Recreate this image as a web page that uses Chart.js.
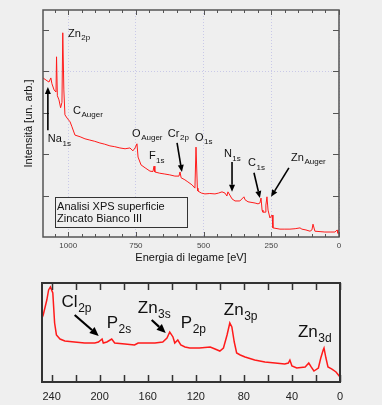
<!DOCTYPE html>
<html>
<head>
<meta charset="utf-8">
<script src="https://cdn.jsdelivr.net/npm/chart.js@4"></script>
<style>
    html, body { margin: 0; padding: 0; background: #efefef; }
    #wrap { position: relative; width: 382px; height: 405px; }
    #chart-survey { position: absolute; left: 0; top: 0; }
    #chart-valence { position: absolute; left: 0; top: 270px; }
</style>
</head>
<body>
<div id="wrap">
    <canvas id="chart-survey" width="382" height="270"></canvas>
    <canvas id="chart-valence" width="382" height="135"></canvas>
</div>
<script>
// --- Survey spectrum (top panel) ---
const surveyEnergy = [
    1093, 1082, 1071, 1064, 1060, 1052, 1045, 1043, 1040, 1034,
    1028, 1023, 1020, 1016, 1012, 1004, 993, 986, 975, 956,
    938, 920, 902, 883, 865, 846, 828, 809, 790, 772,
    761, 753, 746, 742, 731, 716, 698, 687, 683, 680,
    662, 643, 625, 606, 591, 587, 583, 569, 558, 543,
    532, 528, 523, 521, 508, 495, 477, 458, 445, 432,
    421, 414, 410, 395, 384, 366, 351, 347, 336, 310,
    299, 292, 288, 284, 281, 273, 270, 266, 262, 255,
    247, 244, 218, 200, 181, 162, 144, 137, 122, 107,
    100, 96, 89, 70, 52, 33, 15, 7, 4, 0
];
const surveyIntensity = [
    3.84, 3.79, 3.74, 3.84, 3.70, 3.55, 3.50, 4.35, 3.41, 3.31,
    3.12, 3.25, 4.93, 3.55, 2.95, 2.87, 2.78, 2.66, 2.46, 2.42,
    2.37, 2.34, 2.31, 2.27, 2.24, 2.20, 2.18, 2.15, 2.13, 2.15,
    2.08, 2.15, 2.25, 1.93, 1.74, 1.67, 1.59, 1.58, 1.71, 1.57,
    1.54, 1.52, 1.50, 1.47, 1.47, 1.57, 1.43, 1.38, 1.33, 1.26,
    1.18, 2.17, 1.18, 1.11, 1.06, 1.04, 1.05, 1.04, 1.06, 1.09,
    1.06, 0.99, 1.09, 0.92, 0.87, 0.87, 0.97, 0.90, 0.85, 0.82,
    0.80, 0.82, 0.94, 0.65, 0.60, 0.60, 0.77, 0.97, 0.65, 0.46,
    0.53, 0.22, 0.19, 0.19, 0.19, 0.20, 0.22, 0.19, 0.17, 0.14,
    0.17, 0.31, 0.14, 0.13, 0.12, 0.12, 0.12, 0.17, 0.09, 0.07
];
const surveyMajorTicks = [0, 250, 500, 750, 1000];
const surveyMinorTicks = [50, 100, 150, 200, 300, 350, 400, 450, 550, 600, 650, 700, 800, 850, 900, 950, 1050];
const surveyYTicks = [1, 2, 3, 4, 5];

// --- Valence region (bottom panel) ---
const valenceEnergy = [
    248, 247, 244, 242.5, 241, 239, 237.5, 236, 233, 229,
    221, 212.5, 204, 201, 198, 197, 194, 190, 187.5, 179,
    171, 168, 162.5, 154, 147.5, 144, 141.7, 139, 137.5, 135,
    132.5, 129, 125, 117, 108, 104, 100, 97, 94, 91.7,
    90, 88, 86, 83, 79, 71, 62.5, 54, 46, 43,
    41.7, 40, 36, 29, 26, 24, 21.7, 18, 16, 14,
    13.3, 11.7, 10, 6.7, 3.3, 0
];
const valenceIntensity = [
    6.46, 6.77, 8.28, 9.30, 9.60, 8.99, 5.96, 4.75, 4.34, 4.14,
    4.04, 3.94, 3.94, 4.04, 4.34, 3.94, 4.04, 4.34, 3.94, 3.84,
    3.74, 3.94, 3.94, 3.94, 4.04, 4.44, 5.05, 4.55, 3.94, 4.24,
    3.74, 3.54, 3.43, 3.43, 3.54, 3.33, 3.13, 3.43, 4.75, 5.96,
    5.56, 4.04, 2.93, 2.73, 2.53, 2.22, 2.02, 1.92, 1.82, 1.92,
    2.22, 1.62, 1.41, 1.52, 1.92, 1.52, 1.11, 1.41, 2.42, 3.23,
    3.43, 2.42, 1.52, 1.31, 1.01, 0.51
];
const valenceTicks = [0, 20, 40, 60, 80, 100, 120, 140, 160, 180, 200, 220, 240];

// peak labels and arrows, in data units (eV, intensity)
const surveyLabels = [
    { t: 'Zn', s: '2p', x: 1001, y: 4.83 },
    { t: 'C', s: 'Auger', x: 982, y: 2.97 },
    { t: 'Na', s: '1s', x: 1075, y: 2.29 },
    { t: 'O', s: 'Auger', x: 764, y: 2.42 },
    { t: 'Cr', s: '2p', x: 632, y: 2.42 },
    { t: 'F', s: '1s', x: 702, y: 1.88 },
    { t: 'O', s: '1s', x: 532, y: 2.32 },
    { t: 'N', s: '1s', x: 425, y: 1.93 },
    { t: 'C', s: '1s', x: 336, y: 1.71 },
    { t: 'Zn', s: 'Auger', x: 177, y: 1.84 },
];
const surveyArrows = [
    [1075, 2.58, 1075, 3.62],
    [598, 2.27, 580, 1.57],
    [395, 1.81, 395, 1.09],
    [314, 1.55, 292, 0.94],
    [185, 1.67, 251, 0.97],
];
const valenceLabels = [
    { t: 'Cl', s: '2p', x: 231.7, y: 7.58 },
    { t: 'P', s: '2s', x: 194.2, y: 5.45 },
    { t: 'Zn', s: '3s', x: 168.3, y: 6.97 },
    { t: 'P', s: '2p', x: 132.5, y: 5.45 },
    { t: 'Zn', s: '3p', x: 96.7, y: 6.77 },
    { t: 'Zn', s: '3d', x: 35, y: 4.55 },
];
const valenceArrows = [
    [220.8, 6.77, 200.8, 4.65],
    [156.7, 6.26, 145, 4.95],
];

const FONT = '"Liberation Sans", Arial, Helvetica, sans-serif';
const RED = '#ff1a1a';
const GRID = 'rgba(170, 170, 225, 0.55)';

function drawArrow(ctx, x1, y1, x2, y2, head, half) {
    const ang = Math.atan2(y2 - y1, x2 - x1);
    const bx = x2 - head * Math.cos(ang), by = y2 - head * Math.sin(ang);
    ctx.beginPath();
    ctx.moveTo(x1, y1);
    ctx.lineTo(bx, by);
    ctx.stroke();
    ctx.beginPath();
    ctx.moveTo(x2, y2);
    ctx.lineTo(bx + half * Math.sin(ang), by - half * Math.cos(ang));
    ctx.lineTo(bx - half * Math.sin(ang), by + half * Math.cos(ang));
    ctx.closePath();
    ctx.fill();
}

// frame, inward ticks, labels with subscripts, arrows, note box
const decorPlugin = {
    id: 'decor',
    afterDraw(chart, args, o) {
        const { ctx, chartArea: a } = chart;
        const sx = chart.scales.x, sy = chart.scales.y;
        ctx.save();

        ctx.strokeStyle = o.frameColor;
        ctx.lineWidth = o.frameWidth;
        ctx.strokeRect(a.left, a.top, a.right - a.left, a.bottom - a.top);

        ctx.lineWidth = o.tickWidth;
        const xTicks = (vals, len) => vals.forEach(v => {
            const p = Math.round(sx.getPixelForValue(v)) + 0.5;
            ctx.beginPath();
            ctx.moveTo(p, a.top); ctx.lineTo(p, a.top + len);
            ctx.moveTo(p, a.bottom); ctx.lineTo(p, a.bottom - len);
            ctx.stroke();
        });
        xTicks(o.xMajor, o.majorLen);
        xTicks(o.xMinor || [], o.minorLen);
        (o.yMajor || []).forEach(v => {
            const p = Math.round(sy.getPixelForValue(v)) + 0.5;
            ctx.beginPath();
            ctx.moveTo(a.left, p); ctx.lineTo(a.left + o.majorLen + 1, p);
            ctx.moveTo(a.right, p); ctx.lineTo(a.right - o.majorLen - 1, p);
            ctx.stroke();
        });

        ctx.fillStyle = '#111';
        ctx.textBaseline = 'alphabetic';
        ctx.textAlign = 'left';
        o.labels.forEach(l => {
            const px = sx.getPixelForValue(l.x), py = sy.getPixelForValue(l.y);
            ctx.font = o.mainSize + 'px ' + FONT;
            ctx.fillText(l.t, px, py);
            const w = ctx.measureText(l.t).width;
            ctx.font = o.subSize + 'px ' + FONT;
            ctx.fillText(l.s, px + w + 0.5, py + o.subShift);
        });

        ctx.strokeStyle = '#000';
        ctx.fillStyle = '#000';
        ctx.lineWidth = o.arrowWidth;
        o.arrows.forEach(r => drawArrow(ctx,
            sx.getPixelForValue(r[0]), sy.getPixelForValue(r[1]),
            sx.getPixelForValue(r[2]), sy.getPixelForValue(r[3]),
            o.headLen, o.headHalf));

        if (o.box) {
            const b = o.box;
            const x1 = sx.getPixelForValue(b.x1), x2 = sx.getPixelForValue(b.x2);
            const y1 = sy.getPixelForValue(b.y1), y2 = sy.getPixelForValue(b.y2);
            ctx.fillStyle = '#efefef';
            ctx.fillRect(x1, y1, x2 - x1, y2 - y1);
            ctx.strokeStyle = '#333';
            ctx.lineWidth = 1;
            ctx.strokeRect(Math.round(x1) + 0.5, Math.round(y1) + 0.5, Math.round(x2 - x1), Math.round(y2 - y1));
            ctx.fillStyle = '#111';
            ctx.font = b.size + 'px ' + FONT;
            b.lines.forEach(l => ctx.fillText(l.t, sx.getPixelForValue(b.textX), sy.getPixelForValue(l.y)));
        }
        ctx.restore();
    }
};

function toPoints(xs, ys) {
    return xs.map((x, i) => ({ x, y: ys[i] }));
}

new Chart(document.getElementById('chart-survey'), {
    type: 'line',
    data: {
        datasets: [{
            data: toPoints(surveyEnergy, surveyIntensity),
            borderColor: RED,
            borderWidth: 1,
            pointRadius: 0,
            tension: 0,
        }]
    },
    options: {
        responsive: false,
        animation: false,
        layout: { padding: { top: 10, right: 43, left: 0, bottom: 0 } },
        plugins: {
            legend: { display: false },
            tooltip: { enabled: false },
            decor: {
                frameColor: '#555', frameWidth: 1.5, tickWidth: 1,
                xMajor: surveyMajorTicks, xMinor: surveyMinorTicks, yMajor: surveyYTicks,
                majorLen: 5, minorLen: 3,
                labels: surveyLabels, arrows: surveyArrows,
                mainSize: 11, subSize: 8, subShift: 3.5,
                arrowWidth: 1.6, headLen: 7, headHalf: 3,
                box: {
                    x1: 1049, x2: 561, y1: 0.97, y2: 0.24, textX: 1041, size: 11,
                    lines: [{ t: 'Analisi XPS superficie', y: 0.65 }, { t: 'Zincato Bianco III', y: 0.36 }]
                }
            }
        },
        scales: {
            x: {
                type: 'linear', reverse: true, min: 0, max: 1093,
                ticks: { stepSize: 250, includeBounds: false, maxRotation: 0, padding: 4,
                         callback: v => String(v),
                         font: { family: FONT, size: 8 }, color: '#444' },
                grid: { color: GRID, drawTicks: false },
                border: { display: false, dash: [1, 2] },
                title: { display: true, text: 'Energia di legame [eV]', color: '#111',
                         font: { family: FONT, size: 11 }, padding: { top: 0, bottom: 5 } },
                afterFit: s => { s.height = 33; }
            },
            y: {
                min: 0, max: 5.48,
                ticks: { display: false, stepSize: 1 },
                grid: { color: c => (c.tick && c.tick.value === 4 ? GRID : 'transparent'), drawTicks: false },
                border: { display: false, dash: [1, 2] },
                title: { display: true, text: 'Intensità [un. arb.]', color: '#111',
                         font: { family: FONT, size: 11 }, padding: { top: 22, bottom: 0 } },
                afterFit: s => { s.width = 43; }
            }
        }
    },
    plugins: [decorPlugin]
});

new Chart(document.getElementById('chart-valence'), {
    type: 'line',
    data: {
        datasets: [{
            data: toPoints(valenceEnergy, valenceIntensity),
            borderColor: RED,
            borderWidth: 1.5,
            pointRadius: 0,
            tension: 0,
        }]
    },
    options: {
        responsive: false,
        animation: false,
        layout: { padding: { top: 13, right: 42, left: 42, bottom: 0 } },
        plugins: {
            legend: { display: false },
            tooltip: { enabled: false },
            decor: {
                frameColor: '#333', frameWidth: 2, tickWidth: 1.5,
                xMajor: valenceTicks, majorLen: 7, minorLen: 0,
                labels: valenceLabels, arrows: valenceArrows,
                mainSize: 17, subSize: 12, subShift: 5,
                arrowWidth: 2.2, headLen: 9, headHalf: 4
            }
        },
        scales: {
            x: {
                type: 'linear', reverse: true, min: 0, max: 248,
                ticks: { stepSize: 20, includeBounds: false, maxRotation: 0, padding: 8,
                         autoSkip: false, callback: v => (v % 40 === 0 ? String(v) : ''),
                         font: { family: FONT, size: 11 }, color: '#222' },
                grid: { display: false, drawTicks: false },
                border: { display: false },
                afterFit: s => { s.height = 23; }
            },
            y: { display: false, min: 0, max: 10 }
        }
    },
    plugins: [decorPlugin]
});
</script>
</body>
</html>
